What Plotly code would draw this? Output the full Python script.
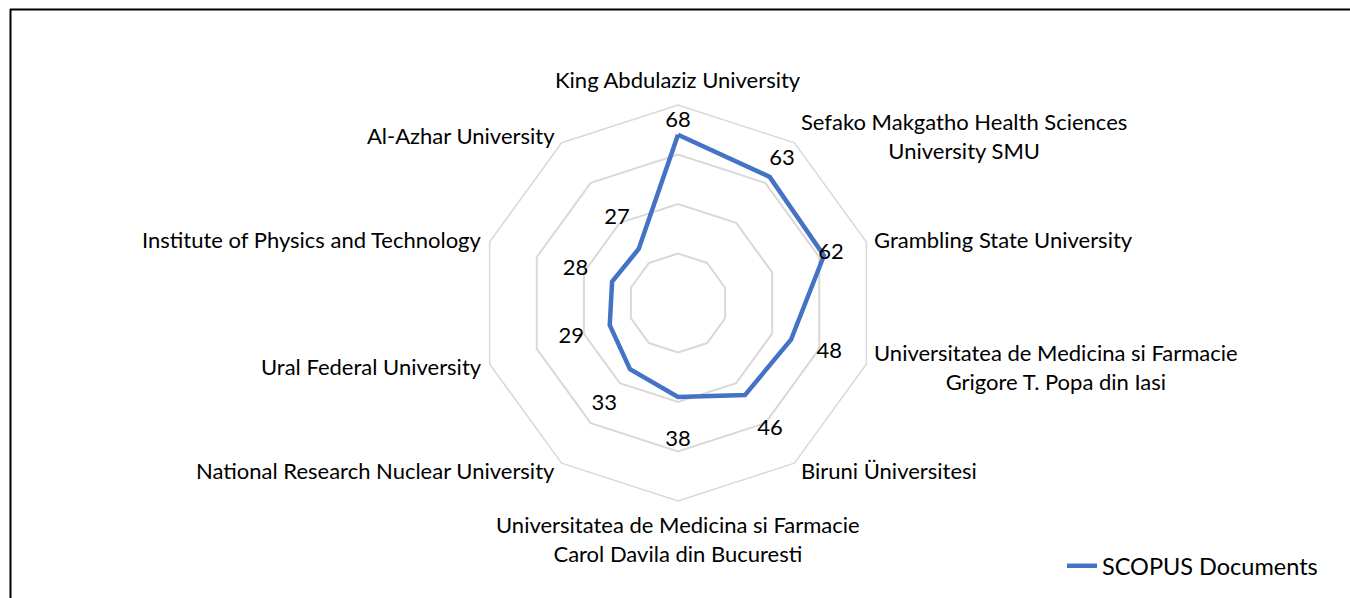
import math
import plotly.graph_objects as go

# ---- data ----
categories = [
    "King Abdulaziz University",
    "Sefako Makgatho Health Sciences<br>University SMU",
    "Grambling State University",
    "Universitatea de Medicina si Farmacie<br>Grigore T. Popa din Iasi",
    "Biruni Üniversitesi",
    "Universitatea de Medicina si Farmacie<br>Carol Davila din Bucuresti",
    "National Research Nuclear University",
    "Ural Federal University",
    "Institute of Physics and Technology",
    "Al-Azhar University",
]
scopus_documents = [68, 63, 62, 48, 46, 38, 33, 29, 28, 27]
series_name = "SCOPUS Documents"

# ---- styling / layout constants ----
W, H = 1350, 598
CX, CY, R = 678, 303, 198          # polar centre and radius in px
RMAX = 80
label_offsets = [5.2, 8.5, 3.0, 16.3, 17.2, 17.7, 17.7, 16.3, 15.5, 15.0]  # data-label radial shift
FONT = "Lato"
FS = 22
LINE_COLOR = "#4472C4"
GRID_COLOR = "#D9D9D9"

theta_closed = categories + categories[:1]
r_closed = scopus_documents + scopus_documents[:1]

fig = go.Figure()
fig.add_trace(go.Scatterpolar(
    r=r_closed, theta=theta_closed, mode="lines",
    line=dict(color=LINE_COLOR, width=4.5),
    name=series_name, hoverinfo="r+theta",
))
fig.add_trace(go.Scatterpolar(
    r=[v + o for v, o in zip(scopus_documents, label_offsets)],
    theta=categories, mode="text",
    text=[str(v) for v in scopus_documents],
    textposition="middle center",
    textfont=dict(family=FONT, size=FS, color="#000000"),
    showlegend=False, hoverinfo="skip", cliponaxis=False,
))

# category labels as annotations around the outer ring
annotations = []
n = len(categories)
for i, cat in enumerate(categories):
    a = math.radians(90 - 360 * i / n)
    vx = CX + R * math.cos(a)
    vy = CY - R * math.sin(a)
    c, s = math.cos(a), math.sin(a)
    if abs(c) < 1e-6:
        if s > 0:
            x, y, xa, ya = vx, vy - 10, "center", "bottom"
        else:
            x, y, xa, ya = vx, vy + 8, "center", "top"
    elif c > 0:
        x, y, xa, ya = vx + 3 + 3 * c, vy - 9 * s, "left", "middle"
    else:
        x, y, xa, ya = vx - 3 - 3 * abs(c), vy - 9 * s, "right", "middle"
    annotations.append(dict(
        text=cat, x=x / W, y=1 - y / H, xref="paper", yref="paper",
        xanchor=xa, yanchor=ya, showarrow=False, align="center",
        font=dict(family=FONT, size=FS, color="#000000"),
    ))

fig.update_layout(
    width=W, height=H,
    margin=dict(l=0, r=0, t=0, b=0),
    paper_bgcolor="white",
    font=dict(family=FONT, size=FS, color="#000000"),
    polar=dict(
        domain=dict(x=[(CX - R) / W, (CX + R) / W], y=[1 - (CY + R) / H, 1 - (CY - R) / H]),
        bgcolor="white",
        gridshape="linear",
        radialaxis=dict(range=[0, RMAX], dtick=20, showticklabels=False, ticks="",
                        showline=False, gridcolor=GRID_COLOR, gridwidth=1.5),
        angularaxis=dict(direction="clockwise", rotation=90, showticklabels=False,
                         ticks="", showgrid=False, showline=True,
                         linecolor=GRID_COLOR, linewidth=1.5),
    ),
    legend=dict(x=1062 / W, y=1 - 566 / H, xanchor="left", yanchor="middle",
                font=dict(family=FONT, size=23.5, color="#000000"),
                bgcolor="rgba(0,0,0,0)"),
    annotations=annotations,
    shapes=[
        dict(type="line", xref="paper", yref="paper", x0=10 / W, x1=1.0,
             y0=1 - 9.5 / H, y1=1 - 9.5 / H, line=dict(color="#000000", width=2)),
        dict(type="line", xref="paper", yref="paper", x0=10.5 / W, x1=10.5 / W,
             y0=0, y1=1 - 9 / H, line=dict(color="#000000", width=2)),
    ],
)

fig.write_html("out.html", config={"displayModeBar": False},
               post_script="document.body.style.margin='0';document.body.style.overflow='hidden';")
